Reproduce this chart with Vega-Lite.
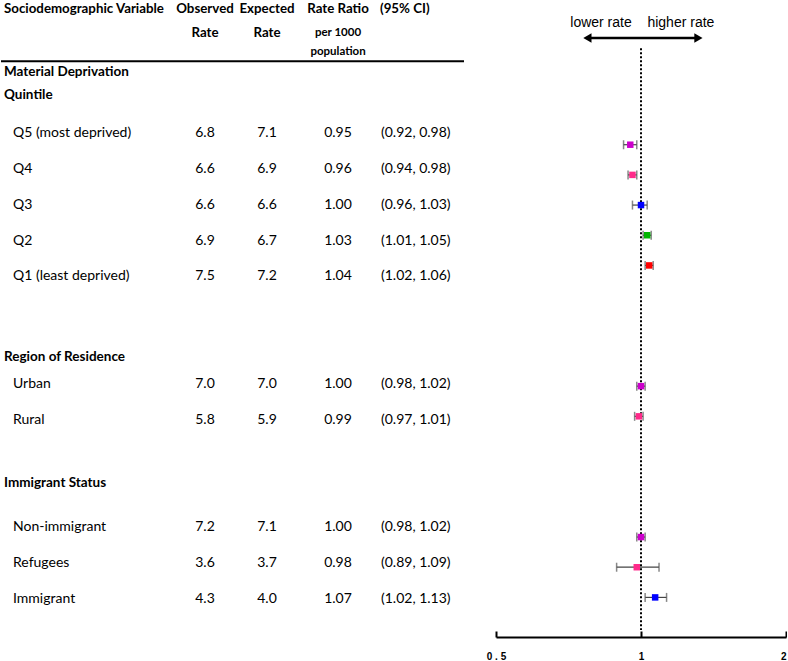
{
  "$schema": "https://vega.github.io/schema/vega-lite/v6.json",
  "padding": 0,
  "background": "white",
  "config": {
    "view": {"stroke": null},
    "text": {"font": "Lato", "fontSize": 14, "color": "black"}
  },
  "datasets": {
    "rows": [
      {"label": "Q5 (most deprived)", "obs": 6.8, "exp": 7.1, "rr": 0.95, "lo": 0.92, "hi": 0.98, "row": 0, "plotRow": 0, "rank": 1},
      {"label": "Q4", "obs": 6.6, "exp": 6.9, "rr": 0.96, "lo": 0.94, "hi": 0.98, "row": 1, "plotRow": 1, "rank": 2},
      {"label": "Q3", "obs": 6.6, "exp": 6.6, "rr": 1.00, "lo": 0.96, "hi": 1.03, "row": 2, "plotRow": 2, "rank": 3},
      {"label": "Q2", "obs": 6.9, "exp": 6.7, "rr": 1.03, "lo": 1.01, "hi": 1.05, "row": 3, "plotRow": 3, "rank": 4},
      {"label": "Q1 (least deprived)", "obs": 7.5, "exp": 7.2, "rr": 1.04, "lo": 1.02, "hi": 1.06, "row": 4, "plotRow": 4, "rank": 5},
      {"label": "Urban", "obs": 7.0, "exp": 7.0, "rr": 1.00, "lo": 0.98, "hi": 1.02, "row": 7, "plotRow": 8, "rank": 1},
      {"label": "Rural", "obs": 5.8, "exp": 5.9, "rr": 0.99, "lo": 0.97, "hi": 1.01, "row": 8, "plotRow": 9, "rank": 2},
      {"label": "Non-immigrant", "obs": 7.2, "exp": 7.1, "rr": 1.00, "lo": 0.98, "hi": 1.02, "row": 11, "plotRow": 13, "rank": 1},
      {"label": "Refugees", "obs": 3.6, "exp": 3.7, "rr": 0.98, "lo": 0.89, "hi": 1.09, "row": 12, "plotRow": 14, "rank": 2},
      {"label": "Immigrant", "obs": 4.3, "exp": 4.0, "rr": 1.07, "lo": 1.02, "hi": 1.13, "row": 13, "plotRow": 15, "rank": 3}
    ],
    "headings": [
      {"label": "Material Deprivation\nQuintile", "row": -1.7},
      {"label": "Region of Residence", "row": 6.25},
      {"label": "Immigrant Status", "row": 9.76}
    ],
    "header": [
      {"col": "var", "part": "name", "text": "Sociodemographic Variable", "row": -3.46},
      {"col": "obs", "part": "name", "text": "Observed", "row": -3.46},
      {"col": "obs", "part": "name", "text": "Rate", "row": -2.79},
      {"col": "exp", "part": "name", "text": "Expected", "row": -3.46},
      {"col": "exp", "part": "name", "text": "Rate", "row": -2.79},
      {"col": "rr", "part": "name", "text": "Rate Ratio", "row": -3.46},
      {"col": "rr", "part": "unit", "text": "per 1000", "row": -2.79},
      {"col": "rr", "part": "unit", "text": "population", "row": -2.26},
      {"col": "ci", "part": "name", "text": "(95% CI)", "row": -3.46}
    ]
  },
  "spacing": 0,
  "bounds": "flush",
  "hconcat": [
    {
      "width": 170,
      "height": 661,
      "layer": [
        {
          "data": {"name": "header"},
          "transform": [{"filter": "datum.col == 'var'"}],
          "mark": {"type": "text", "align": "left", "baseline": "middle", "fontWeight": "bold", "fontSize": 13.3, "dx": 3},
          "encoding": {
            "x": {"value": 0},
            "y": {"field": "row", "type": "quantitative", "scale": {"domain": [-3.71, 14.73], "reverse": true, "nice": false, "zero": false}, "axis": null},
            "text": {"field": "text"}
          }
        },
        {
          "data": {"values": [{}]},
          "mark": {"type": "rule", "strokeWidth": 2, "color": "black"},
          "encoding": {
            "y": {"datum": -2, "type": "quantitative", "scale": {"domain": [-3.71, 14.73], "reverse": true, "nice": false, "zero": false}, "axis": null}
          }
        },
        {
          "data": {"name": "headings"},
          "mark": {"type": "text", "align": "left", "baseline": "middle", "fontWeight": "bold", "fontSize": 13.5, "dx": 3, "lineBreak": "\n", "lineHeight": 23},
          "encoding": {
            "x": {"value": 0},
            "y": {"field": "row", "type": "quantitative", "scale": {"domain": [-3.71, 14.73], "reverse": true, "nice": false, "zero": false}, "axis": null},
            "text": {"field": "label"}
          }
        },
        {
          "data": {"name": "rows"},
          "mark": {"type": "text", "align": "left", "baseline": "middle", "dx": 12},
          "encoding": {
            "x": {"value": 0},
            "y": {"field": "row", "type": "quantitative", "scale": {"domain": [-3.71, 14.73], "reverse": true, "nice": false, "zero": false}, "axis": null},
            "text": {"field": "label"}
          }
        }
      ]
    },
    {
      "width": 68,
      "height": 661,
      "layer": [
        {
          "data": {"name": "header"},
          "transform": [{"filter": "datum.col == 'obs'"}],
          "mark": {"type": "text", "align": "center", "baseline": "middle", "fontWeight": "bold", "fontSize": 13.3},
          "encoding": {
            "y": {"field": "row", "type": "quantitative", "scale": {"domain": [-3.71, 14.73], "reverse": true, "nice": false, "zero": false}, "axis": null},
            "text": {"field": "text"}
          }
        },
        {
          "data": {"values": [{}]},
          "mark": {"type": "rule", "strokeWidth": 2, "color": "black"},
          "encoding": {
            "y": {"datum": -2, "type": "quantitative", "scale": {"domain": [-3.71, 14.73], "reverse": true, "nice": false, "zero": false}, "axis": null}
          }
        },
        {
          "data": {"name": "rows"},
          "mark": {"type": "text", "align": "center", "baseline": "middle"},
          "encoding": {
            "y": {"field": "row", "type": "quantitative", "scale": {"domain": [-3.71, 14.73], "reverse": true, "nice": false, "zero": false}, "axis": null},
            "text": {"field": "obs", "type": "quantitative", "format": ".1f"}
          }
        }
      ]
    },
    {
      "width": 56,
      "height": 661,
      "layer": [
        {
          "data": {"name": "header"},
          "transform": [{"filter": "datum.col == 'exp'"}],
          "mark": {"type": "text", "align": "center", "baseline": "middle", "fontWeight": "bold", "fontSize": 13.3},
          "encoding": {
            "y": {"field": "row", "type": "quantitative", "scale": {"domain": [-3.71, 14.73], "reverse": true, "nice": false, "zero": false}, "axis": null},
            "text": {"field": "text"}
          }
        },
        {
          "data": {"values": [{}]},
          "mark": {"type": "rule", "strokeWidth": 2, "color": "black"},
          "encoding": {
            "y": {"datum": -2, "type": "quantitative", "scale": {"domain": [-3.71, 14.73], "reverse": true, "nice": false, "zero": false}, "axis": null}
          }
        },
        {
          "data": {"name": "rows"},
          "mark": {"type": "text", "align": "center", "baseline": "middle"},
          "encoding": {
            "y": {"field": "row", "type": "quantitative", "scale": {"domain": [-3.71, 14.73], "reverse": true, "nice": false, "zero": false}, "axis": null},
            "text": {"field": "exp", "type": "quantitative", "format": ".1f"}
          }
        }
      ]
    },
    {
      "width": 86,
      "height": 661,
      "layer": [
        {
          "data": {"name": "header"},
          "transform": [{"filter": "datum.col == 'rr' && datum.part == 'name'"}],
          "mark": {"type": "text", "align": "center", "baseline": "middle", "fontWeight": "bold", "fontSize": 13.3},
          "encoding": {
            "y": {"field": "row", "type": "quantitative", "scale": {"domain": [-3.71, 14.73], "reverse": true, "nice": false, "zero": false}, "axis": null},
            "text": {"field": "text"}
          }
        },
        {
          "data": {"name": "header"},
          "transform": [{"filter": "datum.col == 'rr' && datum.part == 'unit'"}],
          "mark": {"type": "text", "align": "center", "baseline": "middle", "fontWeight": "bold", "fontSize": 11.5},
          "encoding": {
            "y": {"field": "row", "type": "quantitative", "scale": {"domain": [-3.71, 14.73], "reverse": true, "nice": false, "zero": false}, "axis": null},
            "text": {"field": "text"}
          }
        },
        {
          "data": {"values": [{}]},
          "mark": {"type": "rule", "strokeWidth": 2, "color": "black"},
          "encoding": {
            "y": {"datum": -2, "type": "quantitative", "scale": {"domain": [-3.71, 14.73], "reverse": true, "nice": false, "zero": false}, "axis": null}
          }
        },
        {
          "data": {"name": "rows"},
          "mark": {"type": "text", "align": "center", "baseline": "middle"},
          "encoding": {
            "y": {"field": "row", "type": "quantitative", "scale": {"domain": [-3.71, 14.73], "reverse": true, "nice": false, "zero": false}, "axis": null},
            "text": {"field": "rr", "type": "quantitative", "format": ".2f"}
          }
        }
      ]
    },
    {
      "width": 83,
      "height": 661,
      "layer": [
        {
          "data": {"name": "header"},
          "transform": [{"filter": "datum.col == 'ci'"}],
          "mark": {"type": "text", "align": "left", "baseline": "middle", "fontWeight": "bold", "fontSize": 13.3, "dx": -1},
          "encoding": {
            "x": {"value": 0},
            "y": {"field": "row", "type": "quantitative", "scale": {"domain": [-3.71, 14.73], "reverse": true, "nice": false, "zero": false}, "axis": null},
            "text": {"field": "text"}
          }
        },
        {
          "data": {"values": [{}]},
          "mark": {"type": "rule", "strokeWidth": 2, "color": "black"},
          "encoding": {
            "y": {"datum": -2, "type": "quantitative", "scale": {"domain": [-3.71, 14.73], "reverse": true, "nice": false, "zero": false}, "axis": null}
          }
        },
        {
          "data": {"name": "rows"},
          "transform": [{"calculate": "'(' + format(datum.lo, '.2f') + ', ' + format(datum.hi, '.2f') + ')'", "as": "ciText"}],
          "mark": {"type": "text", "align": "left", "baseline": "middle"},
          "encoding": {
            "x": {"value": 0},
            "y": {"field": "row", "type": "quantitative", "scale": {"domain": [-3.71, 14.73], "reverse": true, "nice": false, "zero": false}, "axis": null},
            "text": {"field": "ciText"}
          }
        }
      ]
    },
    {
      "width": 32,
      "height": 10,
      "data": {"values": []},
      "mark": {"type": "point", "opacity": 0}
    },
    {
      "width": 290,
      "height": 637,
      "layer": [
        {
          "data": {"name": "rows"},
          "mark": {"type": "rule", "color": "#444", "strokeWidth": 1.2},
          "encoding": {
            "x": {"field": "lo", "type": "quantitative", "scale": {"type": "log", "domain": [0.5, 2], "nice": false, "zero": false},
              "axis": {"values": [0.5, 1, 2], "title": null, "grid": false, "domainColor": "black", "domainWidth": 2, "tickColor": "black", "tickWidth": 2, "tickSize": -6, "labelFont": "Liberation Sans", "labelFontSize": 10, "labelFontWeight": "bold", "labelColor": "black", "labelPadding": 20, "labelOverlap": false, "labelFlush": false, "labelExpr": "datum.value == 0.5 ? '0 . 5' : datum.label", "labelAlign": {"condition": {"test": "datum.value == 2", "value": "right"}, "value": "center"}}},
            "x2": {"field": "hi"},
            "y": {"field": "plotRow", "type": "quantitative", "scale": {"domain": [-4.795, 16.312], "reverse": true, "nice": false, "zero": false}, "axis": null}
          }
        },
        {
          "data": {"values": [{}]},
          "mark": {"type": "rule", "color": "black", "strokeWidth": 2, "strokeDash": [2, 2]},
          "encoding": {
            "x": {"datum": 1, "type": "quantitative"},
            "y": {"datum": -3.2, "type": "quantitative"},
            "y2": {"datum": 16.08}
          }
        },
        {
          "data": {"values": [{}]},
          "mark": {"type": "rule", "color": "black", "strokeWidth": 2.5},
          "encoding": {
            "x": {"datum": 0.774, "type": "quantitative"},
            "x2": {"datum": 1.316},
            "y": {"datum": -3.535, "type": "quantitative"}
          }
        },
        {
          "data": {"values": [{}]},
          "mark": {"type": "point", "shape": "triangle-left", "filled": true, "color": "black", "size": 90, "opacity": 1},
          "encoding": {
            "x": {"datum": 0.774, "type": "quantitative"},
            "y": {"datum": -3.535, "type": "quantitative"}
          }
        },
        {
          "data": {"values": [{}]},
          "mark": {"type": "point", "shape": "triangle-right", "filled": true, "color": "black", "size": 90, "opacity": 1},
          "encoding": {
            "x": {"datum": 1.316, "type": "quantitative"},
            "y": {"datum": -3.535, "type": "quantitative"}
          }
        },
        {
          "data": {"values": [{}]},
          "mark": {"type": "text", "text": "lower rate", "font": "Liberation Sans", "fontSize": 14, "align": "center", "baseline": "middle"},
          "encoding": {
            "x": {"datum": 0.826, "type": "quantitative"},
            "y": {"datum": -4.03, "type": "quantitative"}
          }
        },
        {
          "data": {"values": [{}]},
          "mark": {"type": "text", "text": "higher rate", "font": "Liberation Sans", "fontSize": 14, "align": "center", "baseline": "middle"},
          "encoding": {
            "x": {"datum": 1.21, "type": "quantitative"},
            "y": {"datum": -4.03, "type": "quantitative"}
          }
        },
        {
          "data": {"name": "rows"},
          "mark": {"type": "tick", "orient": "vertical", "color": "#555", "size": 9, "thickness": 1.5},
          "encoding": {
            "x": {"field": "lo", "type": "quantitative"},
            "y": {"field": "plotRow", "type": "quantitative"}
          }
        },
        {
          "data": {"name": "rows"},
          "mark": {"type": "tick", "orient": "vertical", "color": "#555", "size": 9, "thickness": 1.5},
          "encoding": {
            "x": {"field": "hi", "type": "quantitative"},
            "y": {"field": "plotRow", "type": "quantitative"}
          }
        },
        {
          "data": {"name": "rows"},
          "mark": {"type": "point", "shape": "square", "filled": true, "size": 42, "opacity": 1},
          "encoding": {
            "x": {"field": "rr", "type": "quantitative"},
            "y": {"field": "plotRow", "type": "quantitative"},
            "color": {"field": "rank", "type": "nominal", "scale": {"domain": [1, 2, 3, 4, 5], "range": ["#CC00CC", "#FF2A8A", "#0000FF", "#00B400", "#FF0000"]}, "legend": null}
          }
        }
      ]
    }
  ]
}
